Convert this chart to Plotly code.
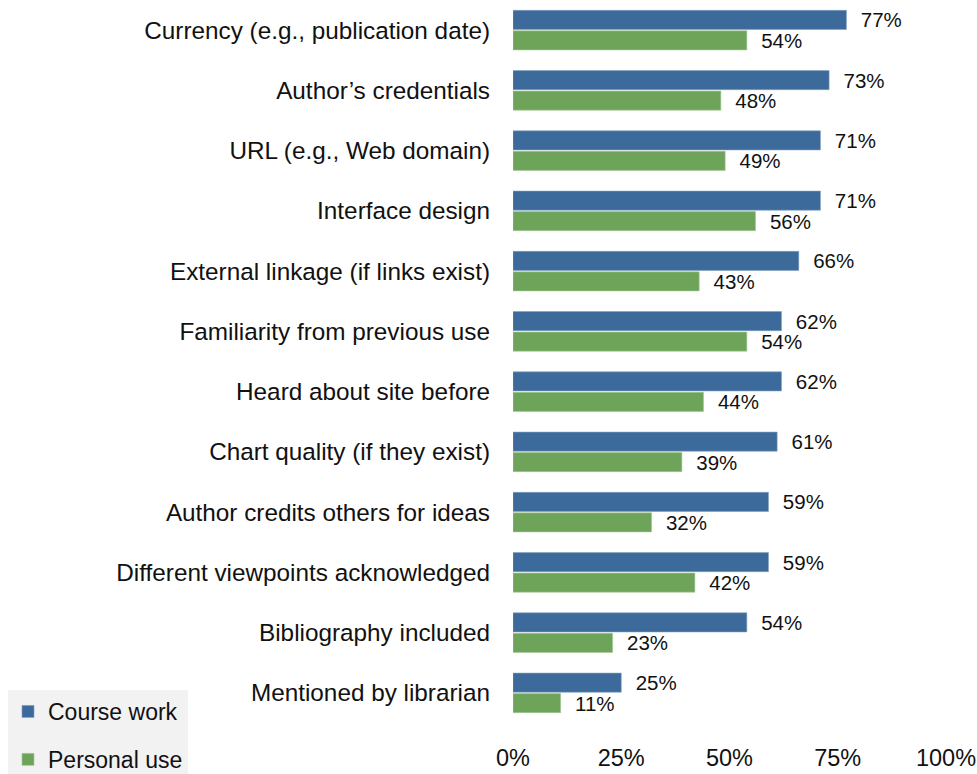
import plotly.graph_objects as go

categories = [
    "Currency (e.g., publication date)",
    "Author\u2019s credentials",
    "URL (e.g., Web domain)",
    "Interface design",
    "External linkage (if links exist)",
    "Familiarity from previous use",
    "Heard about site before",
    "Chart quality (if they exist)",
    "Author credits others for ideas",
    "Different viewpoints acknowledged",
    "Bibliography included",
    "Mentioned by librarian",
]
course_work = [77, 73, 71, 71, 66, 62, 62, 61, 59, 59, 54, 25]
personal_use = [54, 48, 49, 56, 43, 54, 44, 39, 32, 42, 23, 11]
tick_vals = [0, 25, 50, 75, 100]
tick_text = ["0%", "25%", "50%", "75%", "100%"]

FONT = "Liberation Sans, Arial, Helvetica, sans-serif"
BLUE = "#3c6a9a"
GREEN = "#6ea45a"
NB = "\u00a0\u00a0"

fig = go.Figure()
fig.add_trace(go.Bar(
    name="Course work", y=categories, x=course_work, orientation="h",
    marker=dict(color=BLUE, line=dict(color="#7f9fc0", width=0.6)),
    text=[f"{NB}{v}%" for v in course_work], textposition="outside",
    textfont=dict(size=20.5, color="#111111", family=FONT),
    constraintext="none", cliponaxis=False, legendgroup="a",
))
fig.add_trace(go.Bar(
    name="Personal use", y=categories, x=personal_use, orientation="h",
    marker=dict(color=GREEN, line=dict(color="#a3c794", width=0.6)),
    text=[f"{NB}{v}%" for v in personal_use], textposition="outside",
    textfont=dict(size=20.5, color="#111111", family=FONT),
    constraintext="none", cliponaxis=False, legendgroup="b",
))

fig.update_layout(
    width=977, height=774,
    margin=dict(l=513, r=31, t=0, b=51, pad=0, autoexpand=False),
    paper_bgcolor="white", plot_bgcolor="white",
    font=dict(family=FONT, size=24.3, color="#111111"),
    barmode="group", bargap=0.32, bargroupgap=0.07,
    showlegend=True,
    legend=dict(
        xref="container", yref="container",
        x=8 / 977, xanchor="left",
        y=1 - 690 / 774, yanchor="top",
        bgcolor="#f2f2f2", font=dict(size=23, family=FONT, color="#111111"),
        tracegroupgap=15, itemwidth=30, traceorder="grouped",
    ),
    xaxis=dict(
        range=[0, 100], tickvals=tick_vals, ticktext=tick_text,
        showgrid=False, zeroline=False, showline=False, ticks="",
        ticklabelstandoff=18, tickfont=dict(size=23.5),
    ),
    yaxis=dict(
        categoryorder="array", categoryarray=categories,
        range=[11.5, -0.5], showgrid=False, zeroline=False, showline=False,
        ticks="", ticklabelstandoff=22, tickfont=dict(size=24.3),
    ),
)

fig.write_html(
    "out.html",
    config={"displayModeBar": False},
    post_script="document.body.style.margin='0';document.body.style.overflow='hidden';",
)
